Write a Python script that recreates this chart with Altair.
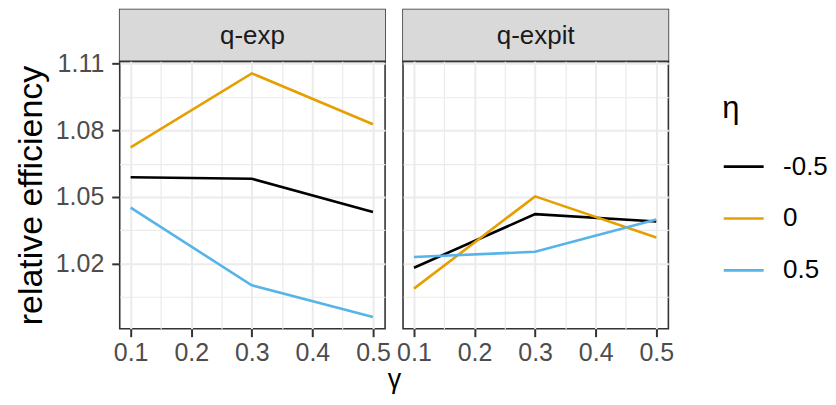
import altair as alt
import pandas as pd

FONT = "Liberation Sans"

gamma = [0.1, 0.3, 0.5]
eta_levels = ["-0.5", "0", "0.5"]
eta_colors = ["#000000", "#E69F00", "#56B4E9"]
panels = ["q-exp", "q-expit"]

qexp_m05 = [1.0589, 1.0582, 1.0433]
qexp_0 = [1.0723, 1.1056, 1.0827]
qexp_05 = [1.0452, 1.0103, 0.9961]
qexpit_m05 = [1.0182, 1.0423, 1.0390]
qexpit_0 = [1.0088, 1.0503, 1.0318]
qexpit_05 = [1.0230, 1.0254, 1.0399]

x_ticks = [0.1, 0.15, 0.2, 0.25, 0.3, 0.35, 0.4, 0.45, 0.5]
y_ticks = [1.005, 1.02, 1.035, 1.05, 1.065, 1.08, 1.095, 1.11]

series = {
    "q-exp": [qexp_m05, qexp_0, qexp_05],
    "q-expit": [qexpit_m05, qexpit_0, qexpit_05],
}
rows = []
for p in panels:
    for eta, vals in zip(eta_levels, series[p]):
        for g, v in zip(gamma, vals):
            rows.append({"model": p, "gamma": g, "eta": eta, "value": v})
df = pd.DataFrame(rows)

W = 266
H = 268
SH = 52

x_major = "abs(datum.value*10 - round(datum.value*10)) < 0.001"
y_major = "abs(datum.value*100 - round(datum.value*100)) < 0.01"

xscale = alt.Scale(domain=[0.082, 0.52], nice=False, zero=False)
yscale = alt.Scale(domain=[0.9908, 1.1110], nice=False, zero=False)
cscale = alt.Scale(domain=eta_levels, range=eta_colors)


def plot_panel(name, first):
    sub = df[df["model"] == name]
    xaxis = alt.Axis(
        values=x_ticks,
        labelExpr=f"{x_major} ? format(datum.value, '.1f') : ''",
        labelOverlap=False,
        labelPadding=4,
        tickOpacity={"condition": {"test": x_major, "value": 1}, "value": 0},
        gridWidth={"condition": {"test": x_major, "value": 2}, "value": 1.2},
        title="γ" if first else None,
        titleX=275,
        titlePadding=1,
        titleFontSize=27,
        titleAnchor="start",
        titleAlign="center",
    )
    if first:
        yaxis = alt.Axis(
            values=y_ticks,
            labelExpr=f"{y_major} ? format(datum.value, '.2f') : ''",
            labelOverlap=False,
            labelPadding=8,
            tickOpacity={"condition": {"test": y_major, "value": 1}, "value": 0},
            gridWidth={"condition": {"test": y_major, "value": 2}, "value": 1.2},
            title="relative efficiency",
            titleFontSize=34,
            titlePadding=7,
        )
    else:
        yaxis = alt.Axis(
            values=y_ticks,
            labels=False,
            ticks=False,
            gridWidth={"condition": {"test": y_major, "value": 2}, "value": 1.2},
            title=None,
        )
    return alt.Chart(sub).mark_line(strokeWidth=2.6).encode(
        x=alt.X("gamma:Q", scale=xscale, axis=xaxis),
        y=alt.Y("value:Q", scale=yscale, axis=yaxis),
        color=alt.Color(
            "eta:N",
            scale=cscale,
            legend=alt.Legend(
                title="η",
                orient="none",
                legendX=604,
                legendY=85,
                symbolType="stroke",
                symbolSize=1600,
                symbolStrokeWidth=2.6,
                rowPadding=17,
                labelOffset=18,
                titlePadding=20,
                padding=0,
            ),
        ),
        detail="eta:N",
    ).properties(width=W, height=H)


def strip_panel(name):
    lab = pd.DataFrame({"label": [name]})
    strip_bg = alt.Chart(lab).mark_rect(color="#D9D9D9").encode(
        x=alt.value(0), x2=alt.value(W), y=alt.value(0), y2=alt.value(SH)
    )
    strip_txt = alt.Chart(lab).mark_text(
        font=FONT, fontSize=26, color="#1A1A1A", baseline="middle", align="center"
    ).encode(text="label:N", x=alt.value(W / 2), y=alt.value(SH / 2 + 1))
    return (strip_bg + strip_txt).properties(width=W, height=SH)


chart = alt.concat(
    strip_panel("q-exp"),
    strip_panel("q-expit"),
    plot_panel("q-exp", True),
    plot_panel("q-expit", False),
    columns=2,
    spacing={"row": 0, "column": 18},
    bounds="flush",
).properties(
    padding={"left": 5, "top": 0, "right": 0, "bottom": 0},
    background="white",
).configure_view(
    stroke="#333333", strokeWidth=1.6
).configure_axis(
    labelFont=FONT,
    labelFontSize=25,
    labelColor="#4D4D4D",
    titleFont=FONT,
    titleColor="#000000",
    titleFontWeight="normal",
    gridColor="#EBEBEB",
    tickColor="#333333",
    tickWidth=2,
    tickSize=8,
    domain=False,
).configure_legend(
    labelFont=FONT,
    labelFontSize=26,
    labelColor="#000000",
    titleFont=FONT,
    titleFontSize=31,
    titleFontWeight="normal",
    titleColor="#000000",
)

chart.save("out.html", embed_options={"renderer": "svg", "actions": False})
